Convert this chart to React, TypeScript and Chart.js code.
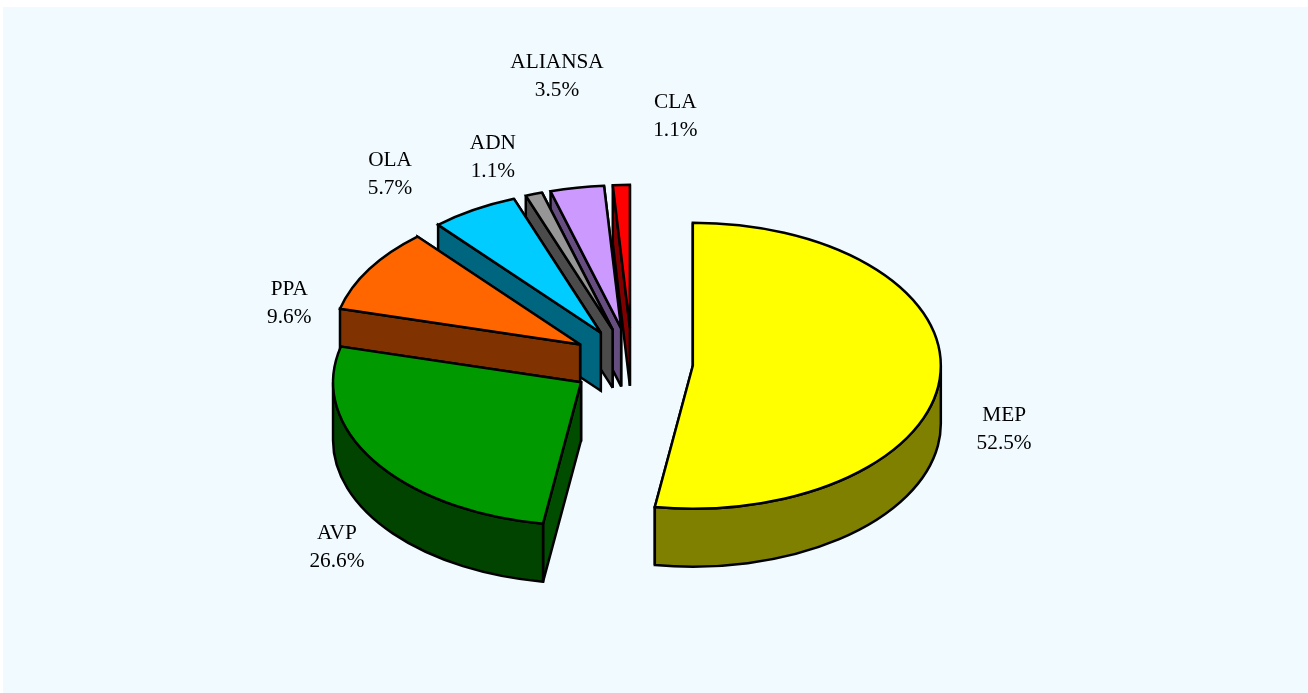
import React, { useEffect, useRef } from "react";
import { Chart, registerables } from "chart.js";

Chart.register(...registerables);

const categories = ["MEP", "AVP", "PPA", "OLA", "ADN", "ALIANSA", "CLA"];
const shares = [52.5, 26.6, 9.6, 5.7, 1.1, 3.5, 1.1];
const topColors = ["#FFFF00", "#009900", "#FF6600", "#00CCFF", "#969696", "#CC99FF", "#FF0000"];
const faceColors = ["#808000", "#004D00", "#803300", "#006680", "#4B4B4B", "#664D80", "#800000"];
const rimColors = ["#808000", "#004400", "#803300", "#006680", "#4B4B4B", "#664D80", "#800000"];
const labelOffsets = [
  [64, 53],
  [-37, 86],
  [-80, 34],
  [-84, -35],
  [-41, -37],
  [-20, -111],
  [54, -69],
];

const TILT = 143 / 248;
const DEPTH = 58;
const PIE_RADIUS = 248;
const EXPLODE = 244; // Chart.js moves an arc by offset / 4

const pie3d = {
  id: "pie3d",
  beforeDatasetsDraw(chart: any) {
    const ctx = chart.ctx as CanvasRenderingContext2D;
    const arcs = chart.getDatasetMeta(0).data as any[];
    ctx.save();
    ctx.lineWidth = 2.5;
    ctx.strokeStyle = "#000000";
    ctx.lineJoin = "miter";
    ctx.miterLimit = 2.5;

    const geom = arcs.map((arc) => {
      const mid = (arc.startAngle + arc.endAngle) / 2;
      const off = arc.options.offset / 4;
      return {
        a0: arc.startAngle,
        a1: arc.endAngle,
        mid,
        r: arc.outerRadius,
        cx: arc.x + Math.cos(mid) * off,
        cy: arc.y + Math.sin(mid) * off * TILT,
      };
    });

    const paint = (fill: string) => {
      ctx.fillStyle = fill;
      ctx.fill();
      ctx.stroke();
    };

    // Painter's order: the back slices first, the front ones over them.
    for (let i = geom.length - 1; i >= 0; i--) {
      const g = geom[i];
      const px = (a: number) => g.cx + g.r * Math.cos(a);
      const py = (a: number) => g.cy + g.r * TILT * Math.sin(a);

      // cut faces
      for (const a of [g.a1, g.a0]) {
        ctx.beginPath();
        ctx.moveTo(g.cx, g.cy);
        ctx.lineTo(px(a), py(a));
        ctx.lineTo(px(a), py(a) + DEPTH);
        ctx.lineTo(g.cx, g.cy + DEPTH);
        ctx.closePath();
        paint(faceColors[i]);
      }

      // outer rim: only the front half of the ellipse is ever seen
      const from = Math.max(g.a0, 0);
      const to = Math.min(g.a1, Math.PI);
      if (to > from) {
        ctx.beginPath();
        ctx.ellipse(g.cx, g.cy, g.r, g.r * TILT, 0, from, to);
        ctx.lineTo(px(to), py(to) + DEPTH);
        ctx.ellipse(g.cx, g.cy + DEPTH, g.r, g.r * TILT, 0, to, from, true);
        ctx.closePath();
        paint(rimColors[i]);
      }

      // top
      ctx.beginPath();
      ctx.moveTo(g.cx, g.cy);
      ctx.ellipse(g.cx, g.cy, g.r, g.r * TILT, 0, g.a0, g.a1);
      ctx.closePath();
      paint(topColors[i]);
    }

    // labels
    ctx.fillStyle = "#000000";
    ctx.font = '21.3px "Liberation Serif"';
    ctx.textAlign = "center";
    ctx.textBaseline = "middle";
    geom.forEach((g, i) => {
      const x = g.cx + g.r * Math.cos(g.mid) + labelOffsets[i][0];
      const y = g.cy + g.r * TILT * Math.sin(g.mid) + labelOffsets[i][1];
      ctx.fillText(categories[i], x, y - 14);
      ctx.fillText(`${shares[i].toFixed(1)}%`, x, y + 14);
    });
    ctx.restore();
    return false;
  },
};

export default function App() {
  const ref = useRef<HTMLCanvasElement>(null);
  useEffect(() => {
    const chart = new Chart(ref.current!, {
      type: "pie",
      data: {
        labels: categories,
        datasets: [
          {
            data: shares,
            backgroundColor: topColors,
            borderColor: "#000000",
            borderWidth: 2,
            offset: EXPLODE,
            radius: PIE_RADIUS,
          } as any,
        ],
      },
      options: {
        responsive: false,
        animation: false,
        layout: { padding: { top: 26, right: 47, bottom: 0, left: 0 } },
        plugins: { legend: { display: false }, tooltip: { enabled: false } },
      },
      plugins: [pie3d as any],
    });
    return () => chart.destroy();
  }, []);

  return (
    <div style={{ position: "absolute", left: 0, top: 0, width: 1308, height: 693, background: "#FFFFFF", overflow: "hidden" }}>
      <canvas
        ref={ref}
        width={1305}
        height={686}
        style={{ position: "absolute", left: 3, top: 7, background: "#F0FAFF" }}
      />
    </div>
  );
}
